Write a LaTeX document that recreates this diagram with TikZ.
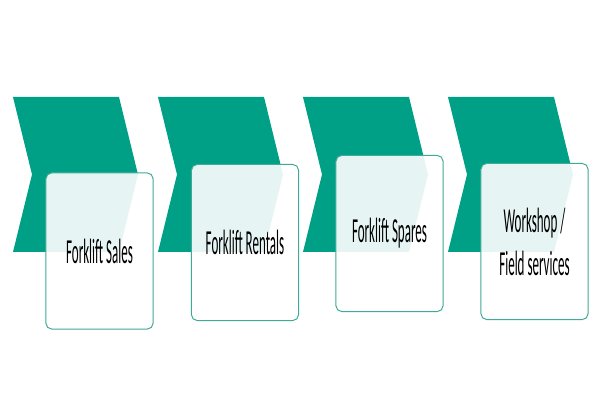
\documentclass[tikz,border=0pt]{standalone}
\usepackage{fontspec}
\newfontfamily\boxfont[FakeStretch=0.37]{Carlito}
\usetikzlibrary{positioning}
\definecolor{chevteal}{HTML}{00A086}
\definecolor{boxline}{HTML}{3FAA95}
\tikzset{%
	chevron/.style  = {fill=chevteal, draw=none},
	stagebox/.style = {draw=boxline, line width=0.7pt, fill=white, fill opacity=0.9, text opacity=1, rounded corners=4pt, minimum width=2.675cm, minimum height=3.9cm, align=center, font=\boxfont\fontsize{25}{30.6}\selectfont, text=black},
}
\begin{document}
\begin{tikzpicture}[x=0.025cm,y=-0.025cm]
	\useasboundingbox (0,0) rectangle (600,400);
	\foreach \x in {13,158,303,448}
		\fill[chevron] (\x,97) -- ++(106,0) -- ++(19,77.5) -- ++(-19,77.5) -- ++(-106,0) -- ++(19,-77.5) -- cycle;  % arrows
	\node[stagebox] (sales)    at (99.5,251)  {Forklift Sales};
	\node[stagebox] (rentals)  at (245,242.5) {Forklift Rentals};
	\node[stagebox] (spares)   at (389.5,233.5) {Forklift Spares};
	\node[stagebox] (workshop) at (534.5,241.5) {Workshop /\\Field services};
\end{tikzpicture}
\end{document}
